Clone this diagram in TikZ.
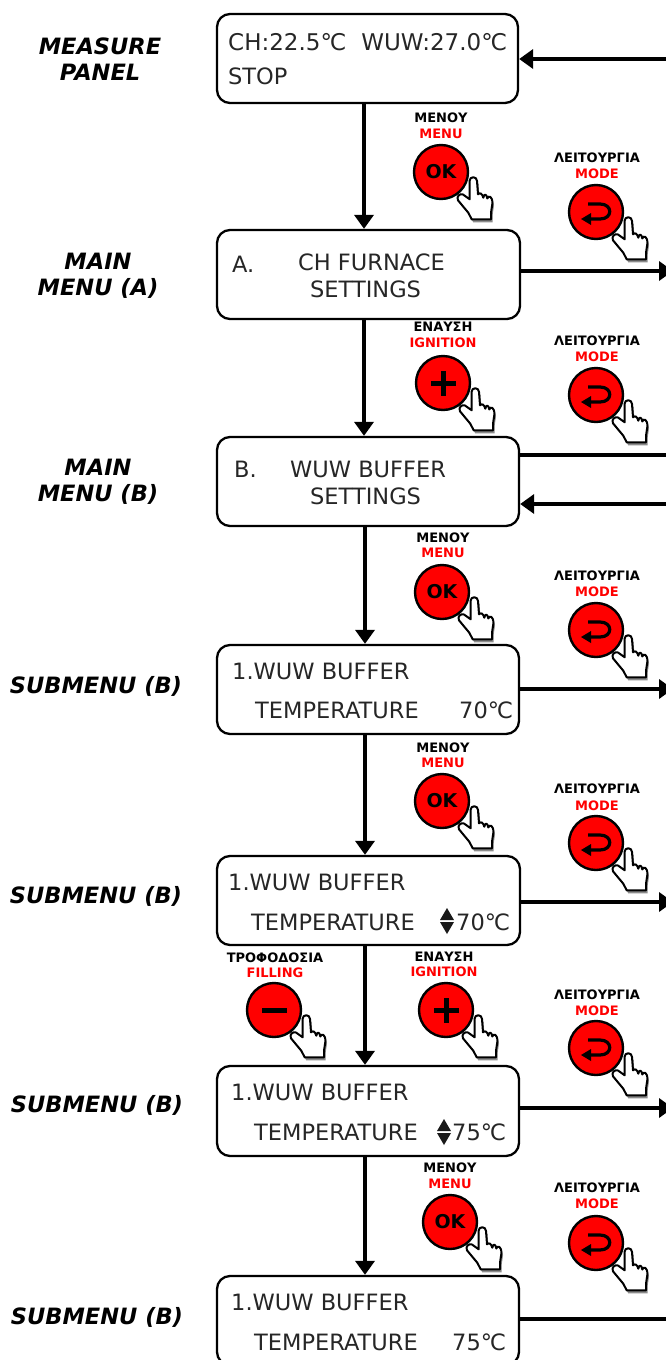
\documentclass[tikz,border=0pt]{standalone}
\usepackage{fontspec}
\setmainfont{DejaVu Sans}
\usetikzlibrary{arrows.meta}
\newcommand{\handshape}{(28.7,27.3) -- (28.5,9) .. controls (28.5,4) and (36,4) .. (36,9)
   -- (37,22.3) .. controls (39,20.5) and (41,21) .. (42.3,25.7)
   .. controls (43,21.5) and (45.5,21.5) .. (46.3,26.5)
   .. controls (47.5,23) and (51,24) .. (51.5,30.7)
   -- (50,40.7) -- (50,47.3) -- (30.7,47.3) -- (27.3,40.7) -- (17,28.3)
   .. controls (15,24.5) and (19,21) .. (22,22.5) -- cycle}
\tikzset{
 lcd/.style={draw=black,line width=2.3pt,rounded corners=13pt,fill=white,inner sep=0pt},
 lcdtext/.style={font=\fontsize{22.5}{24}\selectfont,text=black!85,anchor=base west,inner sep=0pt},
 side/.style={font=\fontsize{22.5}{26}\selectfont\bfseries\itshape,align=center,inner sep=0pt,anchor=center},
 gr/.style={font=\fontsize{13}{14}\selectfont\bfseries,inner sep=0pt,anchor=center},
 en/.style={font=\fontsize{13}{14}\selectfont\bfseries,text=red,inner sep=0pt,anchor=center},
 okbtn/.style={circle,draw=black,line width=2.4pt,fill=red,minimum size=54pt,inner sep=0pt},
 flow/.style={line width=4.2pt,-{Triangle[length=14pt,width=19pt]}},
 flowplain/.style={line width=4.2pt},
 pics/hand/.style={code={
  \begin{scope}[shift={(1.5,3)}]
  \fill[black!45] \handshape;
  \end{scope}
  \filldraw[fill=white,draw=black,line width=2pt,line join=round] \handshape;
 }},
 pics/modeicon/.style={code={
  \draw[line width=3.2pt] (-8,-8) -- (4,-8) .. controls (17,-8) and (17,7) .. (4,7) -- (-6,7);
  \fill (-15,7) -- (-5,1) -- (-5,13) -- cycle;
 }},
}
\newcommand{\triud}[2]{\fill[black!90] (#1-7,#2-1) -- (#1,#2-13) -- (#1+7,#2-1) -- cycle; \fill[black!90] (#1-7,#2+1) -- (#1,#2+13) -- (#1+7,#2+1) -- cycle;}
\begin{document}
\begin{tikzpicture}[x=1pt,y=-1pt]
\useasboundingbox (0,0) rectangle (666,1360);
\begin{scope}
\clip (0,0) rectangle (666,1360);
% LCD boxes
\node[lcd,minimum width=301pt,minimum height=89pt] (p1) at (367.5,58.5) {};
\node[lcd,minimum width=303pt,minimum height=89pt] (p2) at (368.5,274.5) {};
\node[lcd,minimum width=302pt,minimum height=89pt] (p3) at (368,481.5) {};
\node[lcd,minimum width=302pt,minimum height=89pt] (p4) at (368,689.5) {};
\node[lcd,minimum width=303pt,minimum height=89pt] (p5) at (368.5,900.5) {};
\node[lcd,minimum width=302pt,minimum height=90pt] (p6) at (368,1111) {};
\node[lcd,minimum width=302pt,minimum height=89pt] (p7) at (368,1320.5) {};
% LCD text
\node[lcdtext,font=\fontsize{23}{24}\selectfont] (t1a) at (228,50) {CH:22.5℃\hspace{15pt}WUW:27.0℃};
\node[lcdtext] (t1b) at (228,84) {STOP};
\node[lcdtext] (t2a) at (232,272) {A.};
\node[lcdtext] (t2b) at (298,270) {CH FURNACE};
\node[lcdtext] (t2c) at (310,297) {SETTINGS};
\node[lcdtext] (t3a) at (234,477) {B.};
\node[lcdtext] (t3b) at (290,477) {WUW BUFFER};
\node[lcdtext] (t3c) at (310,504) {SETTINGS};
\node[lcdtext] (t4a) at (232,679) {1.WUW BUFFER};
\node[lcdtext] (t4b) at (255,718) {TEMPERATURE};
\node[lcdtext] (t4c) at (459,718) {70℃};
\node[lcdtext] (t5a) at (228,890) {1.WUW BUFFER};
\node[lcdtext] (t5b) at (251,930) {TEMPERATURE};
\node[lcdtext] (t5c) at (456,930) {70℃};
\node[lcdtext] (t6a) at (231,1100) {1.WUW BUFFER};
\node[lcdtext] (t6b) at (254,1140) {TEMPERATURE};
\node[lcdtext] (t6c) at (452,1140) {75℃};
\node[lcdtext] (t7a) at (231,1310) {1.WUW BUFFER};
\node[lcdtext] (t7b) at (254,1350) {TEMPERATURE};
\node[lcdtext] (t7c) at (452,1350) {75℃};
\triud{447}{921}
\triud{444}{1132}
% side labels
\node[side] (s1) at (100,59) {MEASURE\\PANEL};
\node[side] (s2) at (98,276) {MAIN\\MENU (A)};
\node[side] (s3) at (98,482) {MAIN\\MENU (B)};
\node[side] (s4) at (96,686) {SUBMENU (B)};
\node[side] (s5) at (96,896) {SUBMENU (B)};
\node[side] (s6) at (97,1105) {SUBMENU (B)};
\node[side] (s7) at (97,1317) {SUBMENU (B)};
% free ends
\coordinate (e1) at (666,59);
\coordinate (e2) at (673,271);
\coordinate (e3a) at (666,455);
\coordinate (e3b) at (666,504);
\coordinate (e4) at (673,689);
\coordinate (e5) at (673,902);
\coordinate (e6) at (673,1108);
\coordinate (e7) at (666,1319);
% connectors
\draw[flow] (p1.south -| 364,0) -- (p2.north -| 364,0);
\draw[flow] (p2.south -| 364,0) -- (p3.north -| 364,0);
\draw[flow] (p3.south -| 365,0) -- (p4.north -| 365,0);
\draw[flow] (p4.south -| 365,0) -- (p5.north -| 365,0);
\draw[flow] (p5.south -| 365,0) -- (p6.north -| 365,0);
\draw[flow] (p6.south -| 365,0) -- (p7.north -| 365,0);
\draw[flow] (e1) -- (e1 -| p1.east);
\draw[flow] (e2 -| p2.east) -- (e2);
\draw[flowplain] (e3a -| p3.east) -- (e3a);
\draw[flow] (e3b) -- (e3b -| p3.east);
\draw[flow] (e4 -| p4.east) -- (e4);
\draw[flow] (e5 -| p5.east) -- (e5);
\draw[flow] (e6 -| p6.east) -- (e6);
\draw[flowplain] (e7 -| p7.east) -- (e7);
% buttons
\foreach \n/\x/\y/\k in {b1/441/172/ok,b2/443/383/plus,b3/442/592/ok,b4/442/801/ok,b5/274/1010/minus,b6/446/1010/plus,b7/450/1222/ok,
 m1/596/212/mode,m2/596/395/mode,m3/596/630/mode,m4/596/843/mode,m5/596/1048/mode,m6/596/1243/mode}{
  \node[okbtn] (\n) at (\x,\y) {};
  \pic at (\n.center) {hand};
  \ifnum\pdfstrcmp{\k}{mode}=0 \pic at (\n.center) {modeicon}; \fi
  \ifnum\pdfstrcmp{\k}{ok}=0 \node[font=\fontsize{19}{20}\selectfont\bfseries,inner sep=0pt] at (\n.center) {OK}; \fi
  \ifnum\pdfstrcmp{\k}{plus}=0 \fill (\n.center) ++(-12.5,-2.5) rectangle ++(25,5); \fill (\n.center) ++(-2.5,-12.5) rectangle ++(5,25); \fi
  \ifnum\pdfstrcmp{\k}{minus}=0 \fill (\n.center) ++(-12.5,-2.5) rectangle ++(25,5); \fi
}
% button captions
\node[gr] (g1) at (441,118) {ΜΕΝΟΥ}; \node[en] (n1) at (441,134) {MENU};
\node[gr] (g2) at (443,327) {ΕΝΑΥΣΗ}; \node[en] (n2) at (443,343) {IGNITION};
\node[gr] (g3) at (443,538) {ΜΕΝΟΥ}; \node[en] (n3) at (443,553) {MENU};
\node[gr] (g4) at (443,748) {ΜΕΝΟΥ}; \node[en] (n4) at (443,763) {MENU};
\node[gr] (g5) at (275,958) {ΤΡΟΦΟΔΟΣΙΑ}; \node[en] (n5) at (275,973) {FILLING};
\node[gr] (g6) at (444,957) {ΕΝΑΥΣΗ}; \node[en] (n6) at (444,972) {IGNITION};
\node[gr] (g7) at (450,1168) {ΜΕΝΟΥ}; \node[en] (n7) at (450,1184) {MENU};
\foreach \i/\y/\z in {a/158/174,b/341/357,c/576/592,d/789/806,e/995/1011,f/1188/1204}{
  \node[gr] (mg\i) at (597,\y) {ΛΕΙΤΟΥΡΓΙΑ}; \node[en] (mn\i) at (597,\z) {MODE};
}
\end{scope}
\end{tikzpicture}
\end{document}
